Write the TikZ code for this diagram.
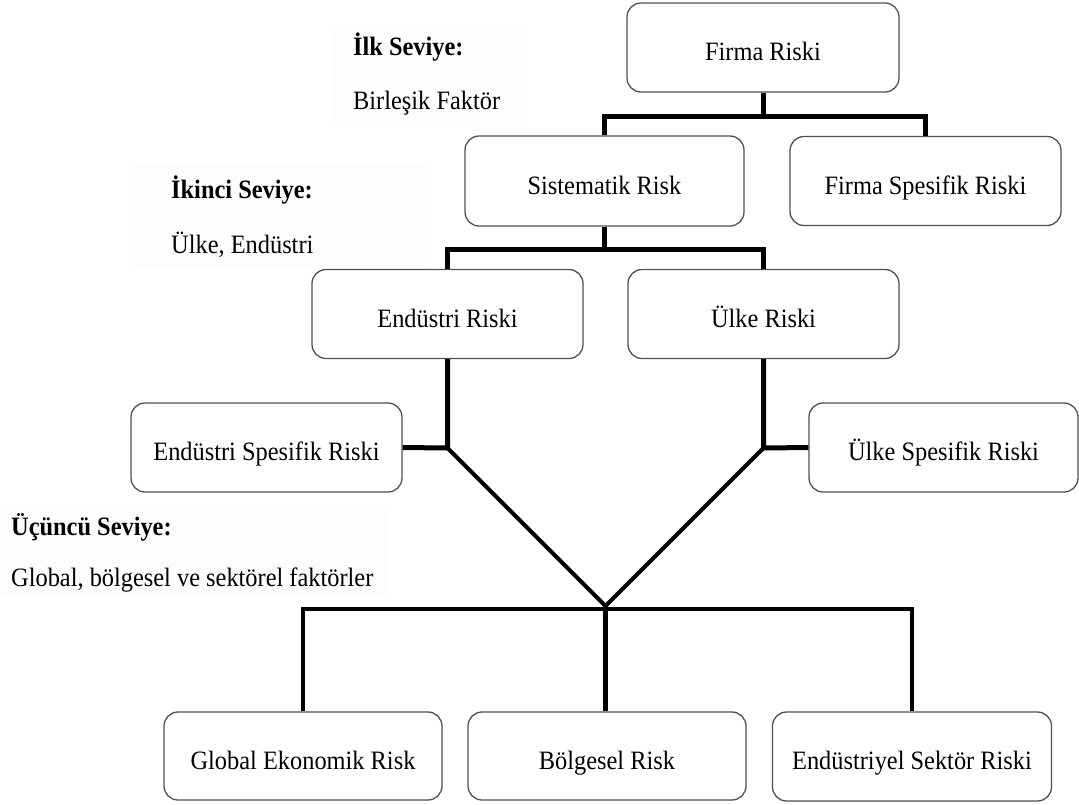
\documentclass[tikz,border=0pt]{standalone}
\usepackage{fontspec}
\setmainfont[FakeStretch=0.92]{Liberation Serif}
\definecolor{bgc}{RGB}{253,253,253}
\definecolor{boxline}{RGB}{80,80,80}
\begin{document}
\begin{tikzpicture}[x=1pt,y=-1pt,
  box/.style={draw=boxline, line width=1.3pt, rounded corners=14pt, minimum width=271pt, minimum height=89pt, inner sep=0pt, text height=29pt, text depth=3pt, align=center, font=\fontsize{26.5}{31}\selectfont, fill=white},
  conn/.style={line width=5pt, line join=miter},
  thinconn/.style={line width=4.2pt, line join=miter},
  lbl/.style={anchor=west, inner sep=0pt, font=\fontsize{26.5}{31}\selectfont},
  lblb/.style={lbl, font=\fontsize{26.5}{31}\selectfont\bfseries}]
\useasboundingbox (0,0) rectangle (1079,804);
% faint label backgrounds
\fill[bgc] (333,27) rectangle (526,125);
\fill[bgc] (130,165) rectangle (428,267);
\fill[bgc] (0,505) rectangle (387,595);
% labels
\node[lblb] (l1a) at (353,47) {İlk Seviye:};
\node[lbl]  (l1b) at (353,103) {Birleşik Faktör};
\node[lblb] (l2a) at (171,190) {İkinci Seviye:};
\node[lbl]  (l2b) at (171,245) {Ülke, Endüstri};
\node[lblb] (l3a) at (11,527) {Üçüncü Seviye:};
\node[lbl]  (l3b) at (11,580) {Global, bölgesel ve sektörel faktörler};
% boxes
\node[box, minimum width=272pt] (firma) at (763,47.5) {Firma Riski};
\node[box, minimum width=279pt, minimum height=90pt] (sist) at (604.5,181) {Sistematik Risk};
\node[box] (fsp) at (925.5,181) {Firma Spesifik Riski};
\node[box] (endr) at (447.5,314) {Endüstri Riski};
\node[box] (ulke) at (763.5,314) {Ülke Riski};
\node[box] (esp) at (266.5,447.5) {Endüstri Spesifik Riski};
\node[box, minimum width=269pt] (usp) at (943.5,447.5) {Ülke Spesifik Riski};
\node[box, minimum width=278pt, minimum height=88pt] (glob) at (303,756) {Global Ekonomik Risk};
\node[box, minimum width=278pt, minimum height=88pt] (bolg) at (607,756) {Bölgesel Risk};
\node[box, minimum width=279pt] (endy) at (912,756.5) {Endüstriyel Sektör Riski};
% junction coordinates
\coordinate (j1) at (763,116);
\coordinate (j2) at (604.5,249);
\coordinate (ea) at (447.5,448);
\coordinate (ua) at (763.5,448);
\coordinate (v) at (605.5,606);
\coordinate (j3) at (605.5,609);
% connectors
\draw[conn] (firma.south) -- (j1);
\draw[conn] (sist.north) |- (j1) -| (fsp.north);
\draw[conn] (sist.south) -- (j2);
\draw[conn] (endr.north) |- (j2) -| (ulke.north);
\draw[conn] (endr.south) -- (ea) -- (esp.east);
\draw[conn] (ulke.south) -- (ua) -- (usp.west);
\draw[thinconn] (ea) -- (v) -- (ua);
\draw[thinconn] (glob.north) |- (j3) -| (endy.north);
\draw[thinconn] (v) -- (v |- bolg.north);
\end{tikzpicture}
\end{document}
